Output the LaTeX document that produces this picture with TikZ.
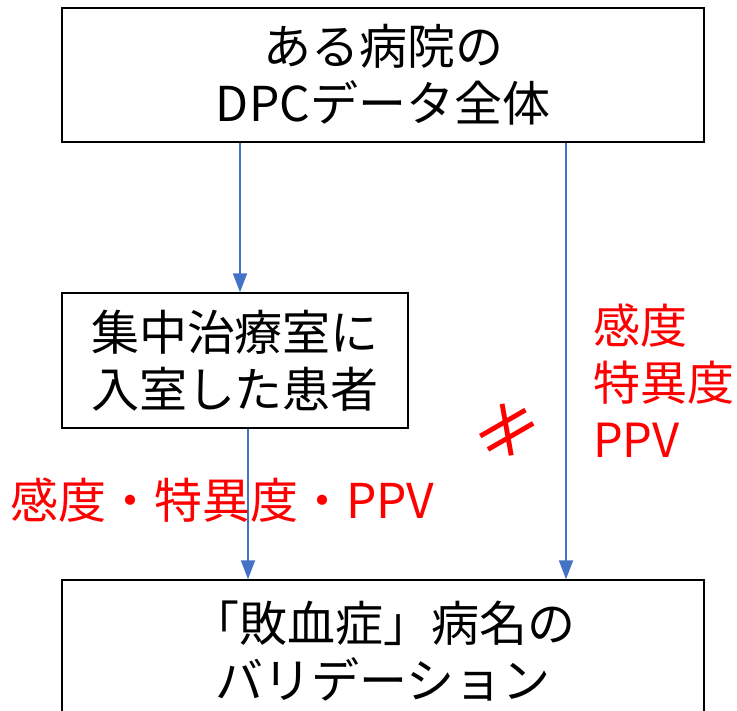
\documentclass[tikz,border=0pt]{standalone}
\usepackage{fontspec}
\setmainfont{Noto Sans CJK JP}
\usetikzlibrary{arrows.meta}
\definecolor{myblue}{HTML}{4472C4}
\definecolor{myred}{HTML}{FF0000}
\begin{document}
\begin{tikzpicture}[x=1pt,y=-1pt,
  box/.style={draw=black, line width=1.4pt, inner sep=0pt, align=center,
    font=\fontsize{48}{57}\selectfont},
  redtxt/.style={text=myred, inner sep=0pt, font=\fontsize{48}{57}\selectfont},
  arr/.style={draw=myblue, line width=1.8pt, -{Triangle[length=19pt,width=14pt]}}]
\useasboundingbox (0,0) rectangle (737,711);
\clip (0,0) rectangle (737,711);
\node[box, minimum width=642pt, minimum height=134pt] (top) at (383,75)
  {ある病院の\\DPCデータ全体};
\node[box, minimum width=346pt, minimum height=135pt] (mid) at (235,360.5)
  {集中治療室に\\入室した患者};
\node[box, minimum width=642pt, minimum height=142pt] (bot) at (383,651)
  {「敗血症」病名の\\バリデーション};
\coordinate (c1) at (240,0);
\coordinate (c2) at (248,0);
\coordinate (c3) at (566,0);
\draw[arr] (top.south -| c1) -- (mid.north -| c1);
\draw[arr] (mid.south -| c2) -- (bot.north -| c2);
\draw[arr] (top.south -| c3) -- (bot.north -| c3);
\node[redtxt, anchor=west] (lbl1) at (10,500) {感度・特異度・PPV};
\node[redtxt, anchor=north west, align=left, font=\fontsize{47}{57}\selectfont] (lbl2) at (593,304) {感度\\特異度\\PPV};
\node[text=myred, inner sep=0pt, rotate=30, font=\fontsize{72}{72}\selectfont] (ne) at (508,431) {≠};
\end{tikzpicture}
\end{document}
